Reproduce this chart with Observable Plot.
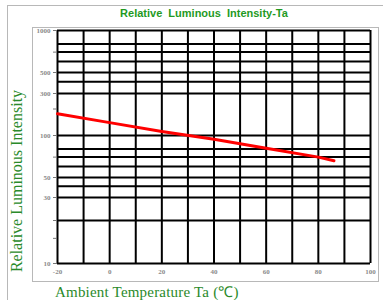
<!DOCTYPE html>
<html>
<head>
<meta charset="utf-8">
<script src="https://cdn.jsdelivr.net/npm/d3@7"></script>
<script src="https://cdn.jsdelivr.net/npm/@observablehq/plot@0.6"></script>
<style>
  html, body { margin: 0; padding: 0; background: #fff; }
  #wrap { position: relative; width: 383px; height: 300px; overflow: hidden; background: #fff; }
  #wrap svg { position: absolute; left: 0; top: 0; }
  .ttl { position: absolute; color: #1f9a1f; white-space: nowrap; }
  #title { left: 0; width: 408px; top: 7px; text-align: center; font: bold 11px "Liberation Sans", Arial, sans-serif; word-spacing: 3px; }
  #xtitle { left: 55px; top: 281px; font: 15px "Liberation Serif", "Times New Roman", serif; color: #2a8a2a; letter-spacing: 0.2px; }
  #ytitle { left: 17px; top: 181px; transform: translate(-50%, -50%) rotate(-90deg); font: 16px "Liberation Serif", "Times New Roman", serif; color: #2a8a2a; }
  .frame { position: absolute; border: 1px solid #b8b8b8; }
</style>
</head>
<body>
<div id="wrap">
  <div class="frame" style="left:7px; top:5px; width:400px; height:320px; border-right:none; border-bottom:none;"></div>
  <div class="frame" style="left:32px; top:27px; width:345px; height:253px;"></div>
  <div id="title" class="ttl">Relative Luminous Intensity-Ta</div>
  <div id="ytitle" class="ttl">Relative Luminous Intensity</div>
  <div id="xtitle" class="ttl">Ambient Temperature Ta (℃)</div>
</div>
<script>
// Data
const temperature = [-20, 0, 20, 40, 60, 80, 86];
const intensity = [177, 140, 111, 94, 81, 70, 66];

// Axis / grid values
const xGrid = [-20, -10, 0, 10, 20, 30, 40, 50, 60, 70, 80, 90, 100];
const xTickLabels = [-20, 0, 20, 40, 60, 80, 100];
const yGrid = [1000, 800, 700, 600, 500, 400, 300, 100, 80, 70, 60, 50, 40, 30, 20, 10];
const yTickMarks = [1000, 700, 500, 300, 200, 100, 70, 50, 30, 20, 15, 10];
const yTickLabels = [1000, 500, 300, 100, 50, 30, 10];
// calibration of the (hand-drawn) log axis at its labelled values
const yCalib = [10, 20, 30, 50, 100, 300, 500, 1000];
const yCalibPx = [263, 220, 197, 177, 135, 93, 72, 30];

const data = temperature.map((t, i) => ({t, v: intensity[i]}));

const chart = Plot.plot({
  width: 383,
  height: 300,
  marginLeft: 57,
  marginRight: 13,
  marginTop: 30,
  marginBottom: 37,
  style: {background: "transparent", overflow: "visible"},
  x: {type: "linear", domain: [-20, 100]},
  y: {type: "log", domain: yCalib, range: yCalibPx},
  marks: [
    Plot.ruleX(xGrid, {stroke: "#000", strokeWidth: 2}),
    Plot.ruleY(yGrid, {stroke: "#000", strokeWidth: 2}),
    Plot.axisY({ticks: yTickMarks, tickFormat: () => "", tickSize: 4, stroke: "#777", strokeWidth: 1, label: null}),
    Plot.axisY({ticks: yTickLabels, tickFormat: d => String(d), tickSize: 0, tickPadding: 7, fontSize: 7, fill: "#8a8a8a", fontWeight: "bold", label: null, fontFamily: "Liberation Serif"}),
    Plot.axisX({ticks: xTickLabels, tickFormat: d => String(d), tickSize: 0, tickPadding: 6, fontSize: 7, fill: "#8a8a8a", fontWeight: "bold", label: null, fontFamily: "Liberation Serif"}),
    Plot.line(data, {x: "t", y: "v", stroke: "#ff0000", strokeWidth: 3})
  ]
});
document.getElementById("wrap").prepend(chart);
</script>
</body>
</html>
